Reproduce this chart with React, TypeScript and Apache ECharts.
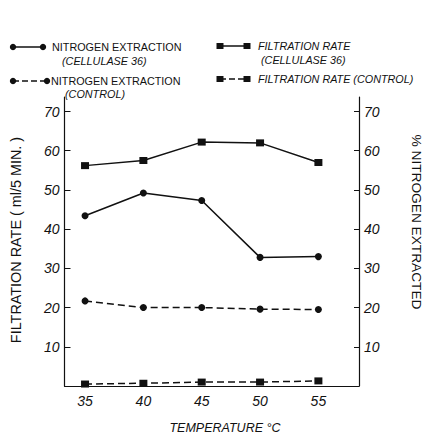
import React, { useEffect, useRef } from "react";
import * as echarts from "echarts";

const temperatures = [35, 40, 45, 50, 55];
const nitrogenCellulase = [43.4, 49.2, 47.3, 32.8, 33.0];
const nitrogenControl = [21.7, 20.0, 20.0, 19.6, 19.5];
const filtrationCellulase = [56.2, 57.5, 62.2, 62.0, 57.0];
const filtrationControl = [0.5, 0.7, 1.0, 1.0, 1.3];
const xTicks = [35, 40, 45, 50, 55];
const yTicks = [10, 20, 30, 40, 50, 60, 70];

const FONT = "Liberation Sans";

function pairs(ys: number[]) {
  return temperatures.map((t, i) => [t, ys[i]]);
}

export default function App() {
  const ref = useRef<HTMLDivElement>(null);
  useEffect(() => {
    if (!ref.current) return;
    const chart = echarts.init(ref.current, null, { renderer: "svg" });
    const axisLabel = {
      color: "#111",
      fontSize: 14,
      fontStyle: "italic",
      fontFamily: FONT,
      customValues: yTicks,
      margin: 5,
    };
    const lineStyleSolid = { color: "#111", width: 1.5, type: "solid" as const };
    const lineStyleDash = { color: "#111", width: 1.5, type: [7, 4] as any };
    const legendText = (x: number, y: number, text: string, italic: boolean) => ({
      type: "text",
      x,
      y,
      style: {
        text,
        fill: "#111",
        fontSize: 10.8,
        fontFamily: FONT,
        fontStyle: italic ? "italic" : "normal",
        verticalAlign: "middle",
      },
    });
    const legendLine = (x1: number, x2: number, y: number, dashed: boolean) => ({
      type: "line",
      shape: { x1, y1: y, x2, y2: y },
      style: { stroke: "#111", lineWidth: 1.5, lineDash: dashed ? [6, 3] : null },
    });
    const dot = (cx: number, cy: number) => ({
      type: "circle",
      shape: { cx, cy, r: 3.2 },
      style: { fill: "#111" },
    });
    const sq = (cx: number, cy: number) => ({
      type: "rect",
      shape: { x: cx - 3.5, y: cy - 3, width: 7, height: 6 },
      style: { fill: "#111" },
    });
    chart.setOption({
      animation: false,
      backgroundColor: "#fff",
      grid: { left: 64.5, right: 66, top: 97, bottom: 49, containLabel: false },
      xAxis: {
        type: "value",
        min: 33.24,
        max: 58.48,
        axisLine: { show: true, lineStyle: { color: "#111", width: 1.2 } },
        axisTick: { show: false },
        splitLine: { show: false },
        axisLabel: {
          color: "#111",
          fontSize: 14,
          fontStyle: "italic",
          fontFamily: FONT,
          customValues: xTicks,
          margin: 8,
        },
      },
      yAxis: [
        {
          type: "value",
          position: "left",
          min: 0,
          max: 73.7,
          axisLine: { show: true, lineStyle: { color: "#111", width: 1.2 } },
          axisTick: { show: true, inside: true, length: 6, customValues: yTicks, lineStyle: { color: "#111" } },
          splitLine: { show: false },
          axisLabel,
        },
        {
          type: "value",
          position: "right",
          min: 0,
          max: 73.7,
          axisLine: { show: true, lineStyle: { color: "#111", width: 1.2 } },
          axisTick: { show: true, inside: true, length: 5, customValues: yTicks, lineStyle: { color: "#111" } },
          splitLine: { show: false },
          axisLabel,
        },
      ],
      series: [
        {
          type: "line",
          name: "NITROGEN EXTRACTION (CELLULASE 36)",
          yAxisIndex: 1,
          data: pairs(nitrogenCellulase),
          symbol: "circle",
          symbolSize: 7,
          itemStyle: { color: "#111" },
          lineStyle: lineStyleSolid,
        },
        {
          type: "line",
          name: "NITROGEN EXTRACTION (CONTROL)",
          yAxisIndex: 1,
          data: pairs(nitrogenControl),
          symbol: "circle",
          symbolSize: 7,
          itemStyle: { color: "#111" },
          lineStyle: lineStyleDash,
        },
        {
          type: "line",
          name: "FILTRATION RATE (CELLULASE 36)",
          yAxisIndex: 0,
          data: pairs(filtrationCellulase),
          symbol: "rect",
          symbolSize: [8, 7],
          itemStyle: { color: "#111" },
          lineStyle: lineStyleSolid,
        },
        {
          type: "line",
          name: "FILTRATION RATE (CONTROL)",
          yAxisIndex: 0,
          data: pairs(filtrationControl),
          symbol: "rect",
          symbolSize: [8, 7],
          itemStyle: { color: "#111" },
          lineStyle: lineStyleDash,
        },
      ],
      graphic: [
        legendLine(13, 43, 47, false),
        dot(13, 47),
        dot(43, 47),
        legendText(52, 47, "NITROGEN EXTRACTION", false),
        legendText(62, 61, "(CELLULASE 36)", true),
        legendLine(13, 47, 81, true),
        dot(13, 81),
        dot(47, 81),
        legendText(51, 81, "NITROGEN EXTRACTION", false),
        legendText(65, 94, "(CONTROL)", true),
        legendLine(220, 247, 46, false),
        sq(220, 46),
        sq(247, 46),
        legendText(258, 46, "FILTRATION RATE", true),
        legendText(261, 60, "(CELLULASE 36)", true),
        legendLine(220, 247, 79, true),
        sq(220, 79),
        sq(247, 79),
        legendText(258, 79, "FILTRATION RATE (CONTROL)", true),
        {
          type: "text",
          x: 16,
          y: 240,
          rotation: Math.PI / 2,
          style: {
            text: "FILTRATION RATE ( ml/5 MIN. )",
            fill: "#111",
            fontSize: 14.4,
            fontFamily: FONT,
            align: "center",
            verticalAlign: "middle",
          },
        },
        {
          type: "text",
          x: 416,
          y: 222,
          rotation: -Math.PI / 2,
          style: {
            text: "% NITROGEN EXTRACTED",
            fill: "#111",
            fontSize: 13.7,
            fontFamily: FONT,
            align: "center",
            verticalAlign: "middle",
          },
        },
        {
          type: "text",
          x: 225,
          y: 428,
          style: {
            text: "TEMPERATURE °C",
            fill: "#111",
            fontSize: 12.5,
            fontStyle: "italic",
            fontFamily: FONT,
            align: "center",
            verticalAlign: "middle",
          },
        },
      ],
    });
    return () => chart.dispose();
  }, []);
  return (
    <div
      ref={ref}
      style={{ position: "absolute", left: 0, top: 0, width: 425, height: 435 }}
    />
  );
}
